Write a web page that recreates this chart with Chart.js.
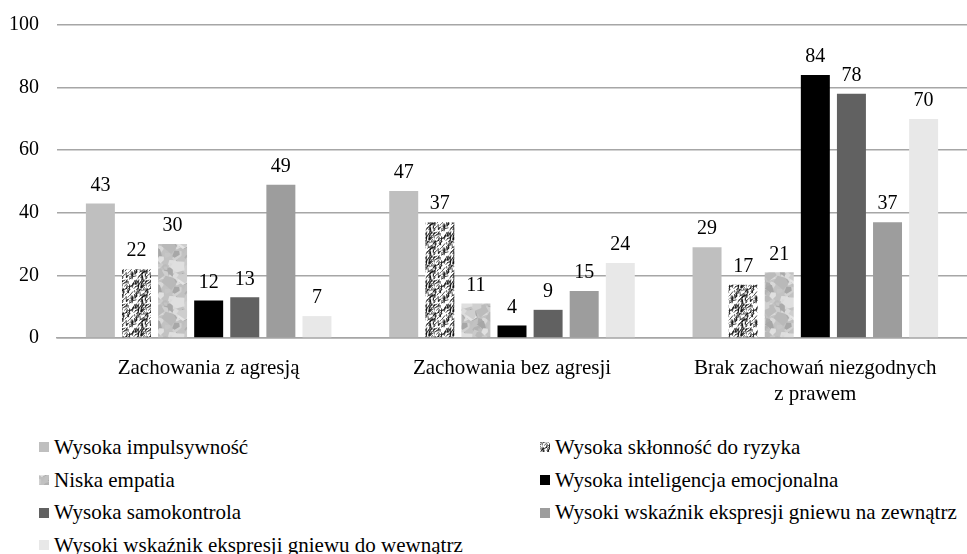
<!DOCTYPE html>
<html>
<head>
<meta charset="utf-8">
<script src="https://cdn.jsdelivr.net/npm/chart.js@4"></script>
<style>
  html, body { margin: 0; padding: 0; background: #fff; overflow: hidden; }
  #wrap { position: relative; width: 967px; height: 554px; }
  #chart { position: absolute; left: 0; top: -5px; }
  #legend {
    position: absolute; left: 39px; top: 431px;
    display: grid; grid-template-columns: 501px 420px; grid-auto-rows: 32.7px;
    color: #000;
  }
  .item { display: flex; align-items: center; white-space: nowrap; }
  .sw { width: 10px; height: 10px; margin-right: 5px; flex: none; }
</style>
</head>
<body>
<div id="wrap">
  <canvas id="chart" width="967" height="425"></canvas>
  <div id="legend" style="font-family: 'Liberation Serif', serif; font-size: 21px;"></div>
</div>
<script>
// categories and values
const categories = [
  ['Zachowania z agresją'],
  ['Zachowania bez agresji'],
  ['Brak zachowań niezgodnych', 'z prawem']
];
const seriesNames = [
  'Wysoka impulsywność',
  'Wysoka skłonność do ryzyka',
  'Niska empatia',
  'Wysoka inteligencja emocjonalna',
  'Wysoka samokontrola',
  'Wysoki wskaźnik ekspresji gniewu na zewnątrz',
  'Wysoki wskaźnik ekspresji gniewu do wewnątrz'
];
const impulsywnosc = [43, 47, 29];
const sklonnoscRyzyko = [22, 37, 17];
const niskaEmpatia = [30, 11, 21];
const inteligencja = [12, 4, 84];
const samokontrola = [13, 9, 78];
const gniewZewnatrz = [49, 15, 37];
const gniewWewnatrz = [7, 24, 70];
const yTicks = [0, 20, 40, 60, 80, 100];

const FONT = "'Liberation Serif', serif";

// texture fills (seeded so the picture is stable)
let seed = 12345;
function rnd() { seed = (seed * 16807) % 2147483647; return seed / 2147483647; }

function hatchPattern() {
  const s = 24, c = document.createElement('canvas');
  c.width = s; c.height = s;
  const g = c.getContext('2d');
  g.fillStyle = '#fff'; g.fillRect(0, 0, s, s);
  g.strokeStyle = '#000'; g.lineWidth = 0.7;
  for (let i = 0; i < 110; i++) {
    const x = rnd() * s, y = rnd() * s, len = 1.5 + rnd() * 4.5;
    const a = -Math.PI / 3 + (rnd() - 0.5) * 1.6;
    for (const dx of [-s, 0, s]) for (const dy of [-s, 0, s]) {
      g.beginPath();
      g.moveTo(x + dx, y + dy);
      g.lineTo(x + dx + Math.cos(a) * len, y + dy + Math.sin(a) * len);
      g.stroke();
    }
  }
  return c;
}

function mottlePattern() {
  const s = 36, c = document.createElement('canvas');
  c.width = s; c.height = s;
  const g = c.getContext('2d');
  g.fillStyle = '#c2c2c2'; g.fillRect(0, 0, s, s);
  for (let i = 0; i < 45; i++) {
    const cx = rnd() * s, cy = rnd() * s, r = 3 + rnd() * 5;
    const v = Math.round(165 + rnd() * 65);
    g.fillStyle = 'rgb(' + v + ',' + v + ',' + v + ')';
    const pts = [];
    for (let k = 0; k < 5; k++) {
      const ang = k / 5 * Math.PI * 2 + rnd() * 0.8;
      const rr = r * (0.6 + rnd() * 0.5);
      pts.push([Math.cos(ang) * rr, Math.sin(ang) * rr]);
    }
    for (const dx of [-s, 0, s]) for (const dy of [-s, 0, s]) {
      g.beginPath();
      pts.forEach((p, k) => k ? g.lineTo(cx + dx + p[0], cy + dy + p[1]) : g.moveTo(cx + dx + p[0], cy + dy + p[1]));
      g.closePath(); g.fill();
    }
  }
  return c;
}

const ctx = document.getElementById('chart').getContext('2d');
const hatchTile = hatchPattern();
const mottleTile = mottlePattern();
const fills = [
  '#bfbfbf',
  ctx.createPattern(hatchTile, 'repeat'),
  ctx.createPattern(mottleTile, 'repeat'),
  '#000000',
  '#616161',
  '#9d9d9d',
  '#e8e8e8'
];
const swatchFills = ['#bfbfbf', 'url(' + hatchTile.toDataURL() + ')', 'url(' + mottleTile.toDataURL() + ')',
  '#000000', '#616161', '#9d9d9d', '#e8e8e8'];
const seriesValues = [impulsywnosc, sklonnoscRyzyko, niskaEmpatia, inteligencja, samokontrola, gniewZewnatrz, gniewWewnatrz];

const valueLabels = {
  id: 'valueLabels',
  afterDatasetsDraw(chart) {
    const c = chart.ctx;
    c.save();
    c.font = '20px ' + FONT;
    c.fillStyle = '#000';
    c.textAlign = 'center';
    c.textBaseline = 'middle';
    chart.data.datasets.forEach((ds, i) => {
      chart.getDatasetMeta(i).data.forEach((bar, j) => {
        c.fillText(ds.data[j], bar.x, bar.y - 18);
      });
    });
    c.restore();
  }
};

Chart.defaults.font.family = FONT;
Chart.defaults.font.size = 20;
Chart.defaults.color = '#000';

new Chart(ctx, {
  type: 'bar',
  data: {
    labels: categories,
    datasets: seriesNames.map((name, i) => ({
      label: name,
      data: seriesValues[i],
      backgroundColor: fills[i],
      borderWidth: 0,
      categoryPercentage: 0.833,
      barPercentage: 0.803
    }))
  },
  options: {
    responsive: false,
    animation: false,
    devicePixelRatio: 1,
    layout: { padding: { top: 8, right: 0, left: 0, bottom: 0 } },
    plugins: { legend: { display: false }, tooltip: { enabled: false } },
    scales: {
      x: {
        grid: { display: false },
        border: { color: '#a6a6a6', width: 1.5 },
        ticks: { padding: 9, font: { family: FONT, size: 21, lineHeight: 1.25 } },
        afterFit(axis) { axis.height = 82; }
      },
      y: {
        min: 0, max: 100,
        afterBuildTicks(axis) { axis.ticks = yTicks.map(v => ({ value: v })); },
        grid: { color: '#a6a6a6', lineWidth: 1.5, drawTicks: false },
        border: { display: false },
        ticks: { padding: 18, font: { family: FONT, size: 20 } },
        afterFit(axis) { axis.width = 57; }
      }
    }
  },
  plugins: [valueLabels]
});

// legend in two columns
const legend = document.getElementById('legend');
seriesNames.forEach((name, i) => {
  const item = document.createElement('div');
  item.className = 'item';
  const sw = document.createElement('span');
  sw.className = 'sw';
  sw.style.background = swatchFills[i];
  item.appendChild(sw);
  item.appendChild(document.createTextNode(name));
  legend.appendChild(item);
});
</script>
</body>
</html>
